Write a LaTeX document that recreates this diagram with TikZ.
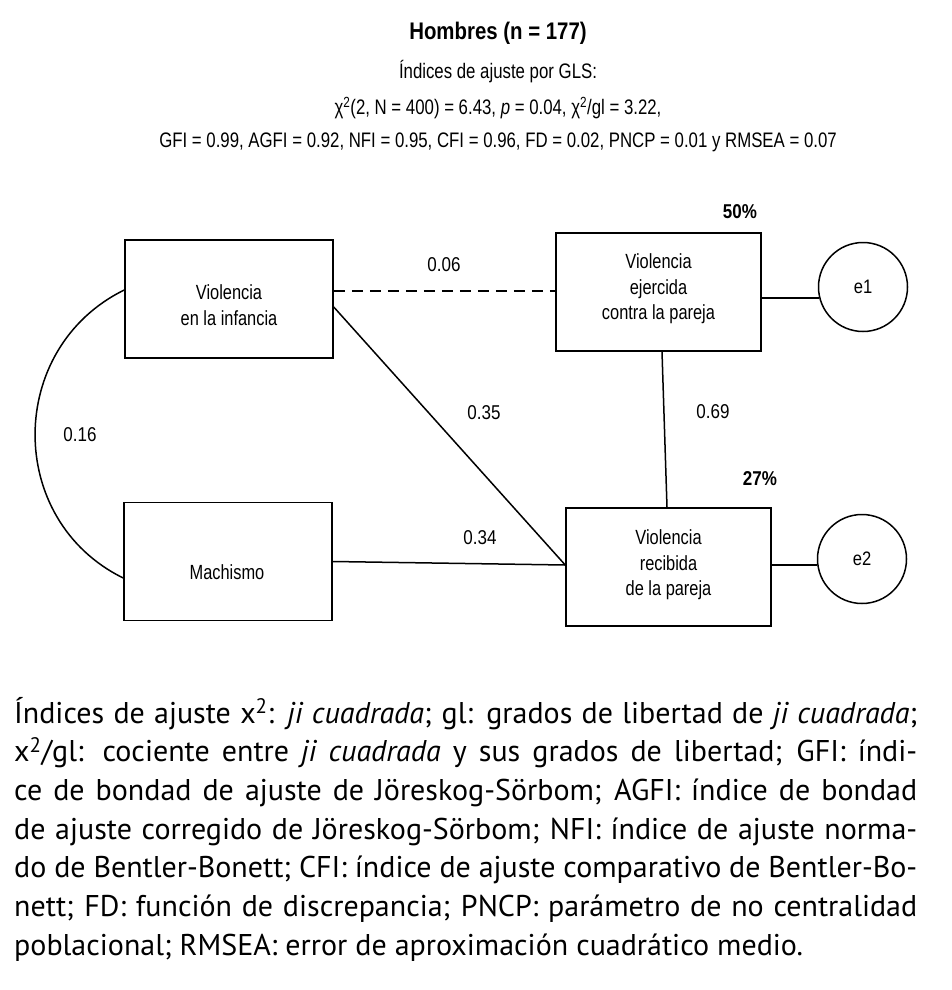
\documentclass[tikz,border=0pt]{standalone}
\usepackage{fontspec}
\usetikzlibrary{calc}
\newfontfamily\narf[FakeStretch=0.8]{Liberation Sans}
\newfontfamily\narb[FakeStretch=0.85]{Liberation Sans}
\newfontfamily\capf{PT Sans}
\newcommand{\jline}[1]{\makebox[903pt][s]{#1}}
\tikzset{
  box/.style={draw, line width=1.5pt, minimum width=208pt, minimum height=118pt, inner sep=0pt},
  errc/.style={draw, circle, line width=1.5pt, minimum size=89pt, inner sep=0pt, font=\narb\fontsize{19.5}{24}\selectfont},
  lbl/.style={font=\narf\fontsize{20.5}{25.5}\selectfont, align=center, inner sep=0pt},
  coef/.style={font=\narb\fontsize{20}{24}\selectfont, inner sep=0pt},
  pct/.style={font=\narb\bfseries\fontsize{20}{24}\selectfont, inner sep=0pt},
  conn/.style={line width=1.5pt},
  hdr/.style={font=\narf\fontsize{21}{25}\selectfont, inner sep=0pt},
  capl/.style={anchor=base west, inner sep=0pt, font=\capf\fontsize{30}{38.7}\selectfont},
}
\begin{document}
\begin{tikzpicture}[x=1pt, y=-1pt]
\useasboundingbox[fill=white] (0,0) rectangle (952,990);

% header
\node[hdr, font=\narb\bfseries\fontsize{24}{28}\selectfont] (title) at (498,33) {Hombres (n = 177)};
\node[hdr] (h2) at (498,72) {Índices de ajuste por GLS:};
\node[hdr] (h3) at (498,108) {χ\textsuperscript{2}(2, N = 400) = 6.43, \textit{p} = 0.04, χ\textsuperscript{2}/gl = 3.22,};
\node[hdr] (h4) at (498,142) {GFI = 0.99, AGFI = 0.92, NFI = 0.95, CFI = 0.96, FD = 0.02, PNCP = 0.01 y RMSEA = 0.07};

% boxes
\node[box] (A) at (229,299) {};
\node[box] (B) at (228,561.5) {};
\node[box, minimum width=205pt] (C) at (658.5,292) {};
\node[box, minimum width=205pt] (D) at (668.5,567) {};
\node[errc] (e1) at (863,287) {e1};
\node[errc] (e2) at (862,559) {e2};

\node[lbl] (tA) at (229,305) {Violencia\\en la infancia};
\node[lbl] (tB) at (227,572) {Machismo};
\node[lbl] (tC) at (658.5,289) {Violencia\\ejercida\\contra la pareja};
\node[lbl] (tD) at (668.5,565) {Violencia\\recibida\\de la pareja};

% connectors
\draw[conn, dash pattern=on 11pt off 7pt] ([yshift=8pt]A.east) -- ([yshift=8pt]A.east -| C.west);
\draw[conn] ([yshift=-8pt]A.east) -- ([yshift=2pt]D.west);
\draw[conn] (B.east) -- ([yshift=2pt]D.west);
\draw[conn] ([xshift=3.5pt]C.south) -- ([xshift=-1.5pt]D.north);
\coordinate (c1) at ([yshift=-6pt]C.east);
\draw[conn] (c1) -- ($(c1 -| e1.west)+(1.4,0)$);
\coordinate (d1) at ([yshift=2pt]D.east);
\draw[conn] (d1) -- ($(d1 -| e2.west)+(0.6,0)$);
\coordinate (arcS) at ([yshift=9pt]A.west);
\coordinate (arcE) at ([yshift=-16.5pt]B.west);
\draw[conn] (arcS) .. controls (6,348) and (5,520) .. (arcE);

% coefficients
\node[coef] (k06) at (444,265) {0.06};
\node[coef] (k35) at (484,413) {0.35};
\node[coef] (k34) at (480,538) {0.34};
\node[coef] (k69) at (713,412) {0.69};
\node[coef] (k16) at (80,435) {0.16};
\node[pct] (p50) at (740,212) {50\%};
\node[pct] (p27) at (760,479) {27\%};

% caption
\node[capl] (cap1) at (14,723) {\jline{Índices de ajuste x\textsuperscript{2}: \textit{ji cuadrada}; gl: grados de libertad de \textit{ji cuadrada};}};
\node[capl] (cap2) at (14,761.7) {\jline{x\textsuperscript{2}/gl: cociente entre \textit{ji cuadrada} y sus grados de libertad; GFI: índi-}};
\node[capl] (cap3) at (14,800.4) {\jline{ce de bondad de ajuste de Jöreskog-Sörbom; AGFI: índice de bondad}};
\node[capl] (cap4) at (14,839.1) {\jline{de ajuste corregido de Jöreskog-Sörbom; NFI: índice de ajuste norma-}};
\node[capl] (cap5) at (14,877.8) {\jline{do de Bentler-Bonett; CFI: índice de ajuste comparativo de Bentler-Bo-}};
\node[capl] (cap6) at (14,916.5) {\jline{nett; FD: función de discrepancia; PNCP: parámetro de no centralidad}};
\node[capl] (cap7) at (14,955.2) {poblacional; RMSEA: error de aproximación cuadrático medio.};
\end{tikzpicture}
\end{document}
